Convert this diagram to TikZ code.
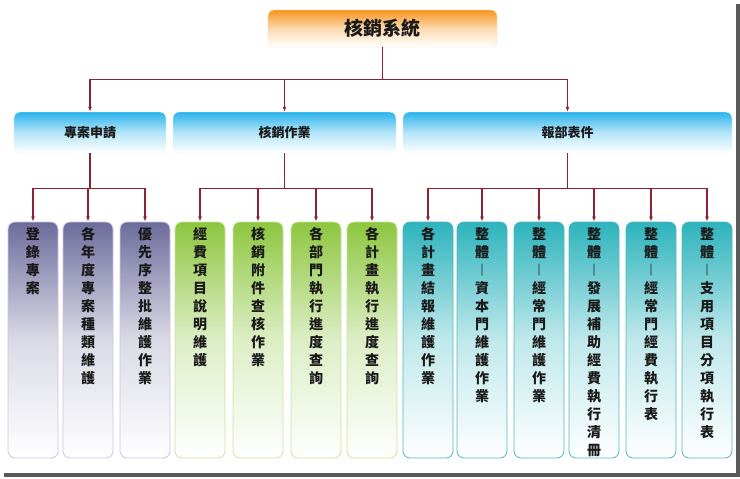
\documentclass[tikz,border=0pt]{standalone}
\usepackage{fontspec}
\setmainfont{Noto Sans CJK TC}
\usetikzlibrary{arrows.meta}

\definecolor{linkred}{HTML}{8B2332}
\definecolor{orangetop}{HTML}{F7941D}
\definecolor{bluetop}{HTML}{2AB4EC}
\definecolor{purpletop}{HTML}{6C6C9C}
\definecolor{purpleedge}{HTML}{CDC3E8}
\definecolor{greentop}{HTML}{8DC63F}
\definecolor{greenedge}{HTML}{C8E4A0}
\definecolor{tealtop}{HTML}{2DB3BC}
\definecolor{tealedge}{HTML}{4FB8BE}
\definecolor{inkblack}{HTML}{1A1A1A}

\begin{document}
\begin{tikzpicture}[x=1pt,y=-1pt,
    link/.style={linkred, line width=1.1pt},
    arr/.style={link, -{Latex[length=5pt,width=4pt]}},
    topbox/.style={rounded corners=6pt, draw=orange!25, top color=orangetop,
      bottom color=white, middle color=orangetop!35, minimum width=229pt,
      minimum height=37pt, text=inkblack, font=\fontsize{19}{19}\selectfont\bfseries},
    groupbox/.style={rounded corners=6pt, draw=bluetop!10, top color=bluetop,
      bottom color=white, middle color=bluetop!35, minimum height=41pt,
      text=inkblack, font=\fontsize{13}{13}\selectfont\bfseries},
    leafbox/.style={rounded corners=7pt, line width=0.8pt, minimum width=50pt,
      minimum height=236pt},
    purplebox/.style={leafbox, draw=purpleedge, top color=purpletop,
      bottom color=white, middle color=purpletop!25},
    greenbox/.style={leafbox, draw=greenedge, top color=greentop,
      bottom color=white, middle color=greentop!30},
    tealbox/.style={leafbox, draw=tealedge, top color=tealtop,
      bottom color=white, middle color=tealtop!30},
    vtext/.style={anchor=north, align=center, inner sep=0pt, text=inkblack,
      font=\fontsize{14}{18}\selectfont\bfseries}
  ]
  \useasboundingbox (0,0) rectangle (740,479);
  % screenshot shadow
  \fill[gray!70!black] (736,4) rectangle (740,477);
  \fill[gray!70!black] (4,473) rectangle (740,477);

  % top
  \node[topbox] (top) at (382.5,28.5) {核銷系統};

  % second level
  \node[groupbox, minimum width=152pt] (pa) at (90,132.5) {專案申請};
  \node[groupbox, minimum width=223pt] (pb) at (284.5,132.5) {核銷作業};
  \node[groupbox, minimum width=329pt] (pc) at (567.5,132.5) {報部表件};

  % leaves
  \foreach \n/\x/\t in {a1/33/{登\\錄\\專\\案},
      a2/88/{各\\年\\度\\專\\案\\種\\類\\維\\護},
      a3/145/{優\\先\\序\\整\\批\\維\\護\\作\\業}}{
    \node[purplebox] (\n) at (\x,340) {};
    \node[vtext] (\n-t) at ([yshift=-6pt]\n.north) {\t};
  }
  \foreach \n/\x/\t in {b1/200/{經\\費\\項\\目\\說\\明\\維\\護},
      b2/258/{核\\銷\\附\\件\\查\\核\\作\\業},
      b3/316/{各\\部\\門\\執\\行\\進\\度\\查\\詢},
      b4/372/{各\\計\\畫\\執\\行\\進\\度\\查\\詢}}{
    \node[greenbox] (\n) at (\x,340) {};
    \node[vtext] (\n-t) at ([yshift=-6pt]\n.north) {\t};
  }
  \foreach \n/\x/\t in {c1/428/{各\\計\\畫\\結\\報\\維\\護\\作\\業},
      c2/482/{整\\體\\︱\\資\\本\\門\\維\\護\\作\\業},
      c3/539/{整\\體\\︱\\經\\常\\門\\維\\護\\作\\業},
      c4/594/{整\\體\\︱\\發\\展\\補\\助\\經\\費\\執\\行\\清\\冊},
      c5/651/{整\\體\\︱\\經\\常\\門\\經\\費\\執\\行\\表},
      c6/707/{整\\體\\︱\\支\\用\\項\\目\\分\\項\\執\\行\\表}}{
    \node[tealbox] (\n) at (\x,340) {};
    \node[vtext] (\n-t) at ([yshift=-6pt]\n.north) {\t};
  }

  % connectors
  \draw[link] (top.south) -- ++(0,32) coordinate (j0);
  \foreach \n in {pa,pb,pc}
    \draw[arr] (j0) -| (\n.north);
  \draw[link] (pa.south) -- ++(0,35) coordinate (ja);
  \foreach \n in {a1,a2,a3}
    \draw[arr] (ja) -| (\n.north);
  \draw[link] (pb.south) -- ++(0,35) coordinate (jb);
  \foreach \n in {b1,b2,b3,b4}
    \draw[arr] (jb) -| (\n.north);
  \draw[link] (pc.south) -- ++(0,35) coordinate (jc);
  \foreach \n in {c1,c2,c3,c4,c5,c6}
    \draw[arr] (jc) -| (\n.north);
\end{tikzpicture}
\end{document}
